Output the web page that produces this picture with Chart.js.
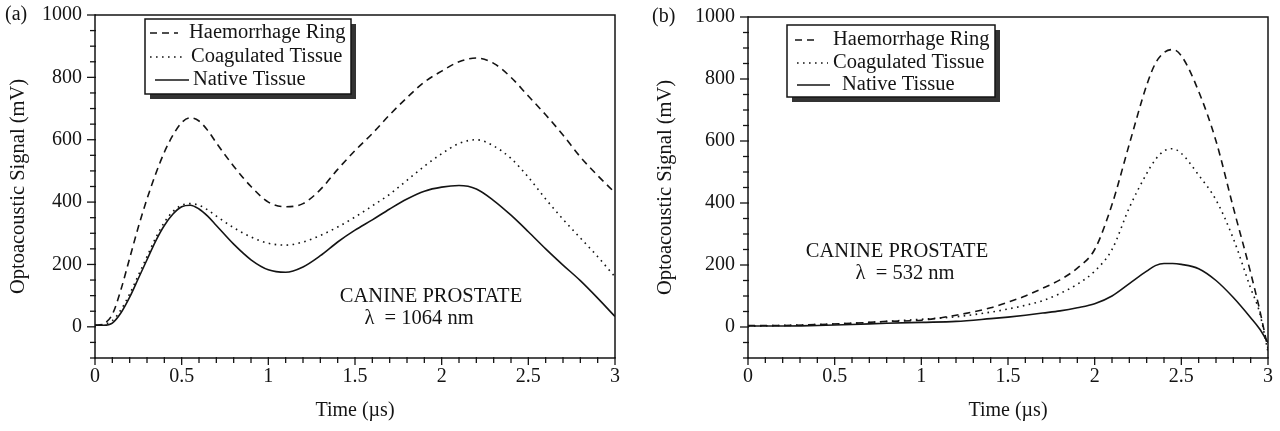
<!DOCTYPE html>
<html><head><meta charset="utf-8">
<script src="https://cdn.jsdelivr.net/npm/chart.js@4.4.1/dist/chart.umd.min.js"></script>
<style>
html,body{margin:0;padding:0;background:#fff;}
#wrap{position:relative;width:1280px;height:431px;overflow:hidden;background:#fff;}
.box{position:absolute;top:0;width:640px;height:431px;}
</style></head><body>
<div id="wrap">
<div class="box" style="left:0"><canvas id="ca"></canvas></div>
<div class="box" style="left:640px"><canvas id="cb"></canvas></div>
</div>
<script>
// ---------- data ----------
const seriesNames = ['Haemorrhage Ring', 'Coagulated Tissue', 'Native Tissue'];
const xTickValues = [0, 0.5, 1, 1.5, 2, 2.5, 3];
const yTickValues = [0, 200, 400, 600, 800, 1000];

// panel (a): 1064 nm
const timeA = [0,0.05,0.1,0.15,0.2,0.25,0.3,0.35,0.4,0.45,0.5,0.55,0.6,0.65,0.7,0.8,0.9,1.0,1.1,1.2,1.3,1.4,1.5,1.6,1.7,1.8,1.9,2.0,2.1,2.2,2.3,2.4,2.5,2.6,2.7,2.8,2.9,3.0];
const haemA   = [5,10,40,120,220,320,410,490,560,615,655,670,660,630,590,515,450,400,385,395,440,505,565,620,680,735,785,820,850,862,845,800,740,680,615,545,485,430];
const coagA   = [5,8,20,55,105,165,225,285,335,370,390,395,390,375,355,318,288,268,262,272,293,320,352,388,425,470,515,555,588,600,580,540,480,410,345,285,225,160];
const nativeA = [5,5,12,45,95,155,215,275,325,362,385,390,378,355,325,265,215,183,175,192,228,272,310,343,378,410,435,448,453,442,405,358,305,250,198,148,92,33];

// panel (b): 532 nm
const timeB = [0,0.2,0.4,0.6,0.8,1.0,1.2,1.4,1.5,1.6,1.7,1.8,1.9,2.0,2.1,2.2,2.3,2.35,2.4,2.45,2.5,2.6,2.7,2.8,2.9,2.95,3.0];
const haemB   = [5,5,8,12,18,22,38,62,80,100,125,152,190,250,395,590,780,850,885,895,875,760,600,385,175,60,-70];
const coagB   = [3,5,8,12,18,25,33,48,58,70,85,108,138,180,250,385,495,540,568,575,560,490,410,285,125,50,-80];
const nativeB = [3,3,5,8,12,15,18,27,32,38,45,52,62,75,100,140,180,198,205,205,202,188,150,95,30,-5,-50];

// ---------- styling ----------
const FONT = '"Liberation Serif", "Times New Roman", serif';
const INK = '#141414';
const dashes = [[7,5], [1.6,4.4], []];

function pts(t, v) { return t.map((x, i) => ({x: x, y: v[i]})); }

function makeDatasets(t, h, c, n) {
  return [h, c, n].map((v, i) => ({
    label: seriesNames[i],
    data: pts(t, v),
    borderColor: INK,
    borderWidth: 1.6,
    borderDash: dashes[i],
    pointRadius: 0,
    fill: false,
    cubicInterpolationMode: 'monotone'
  }));
}

function decorPlugin(p) {
  return {
    id: 'decor',
    afterDraw(chart) {
      const ctx = chart.ctx, a = chart.chartArea;
      const xs = chart.scales.x, ys = chart.scales.y;
      ctx.save();
      ctx.strokeStyle = INK;
      ctx.lineWidth = 1.5;
      ctx.setLineDash([]);
      ctx.strokeRect(a.left, a.top, a.right - a.left, a.bottom - a.top);
      ctx.lineWidth = 1.3;
      for (let k = 0; k <= 30; k++) {
        const v = k / 10, px = xs.getPixelForValue(v);
        const major = k % 5 === 0;
        ctx.beginPath();
        ctx.moveTo(px, a.bottom - 1);
        ctx.lineTo(px, a.bottom + (major ? 7 : 5));
        ctx.stroke();
      }
      for (let k = -2; k <= 20; k++) {
        const v = k * 50, py = ys.getPixelForValue(v);
        const major = k % 4 === 0;
        ctx.beginPath();
        ctx.moveTo(a.left + 1, py);
        ctx.lineTo(a.left - (major ? 8 : 5), py);
        ctx.stroke();
      }
      ctx.fillStyle = INK;
      ctx.font = '20px ' + FONT;
      ctx.textAlign = 'left';
      ctx.textBaseline = 'middle';
      ctx.fillText(p.tag, p.tagX, p.tagY);
      ctx.font = '20.5px ' + FONT;
      ctx.textAlign = 'center';
      ctx.fillText('CANINE PROSTATE', p.annX, p.annY);
      ctx.fillText(p.lambda, p.lamX, p.annY + 22);
      const L = p.legend;
      ctx.fillStyle = '#333';
      ctx.fillRect(L.x + 5, L.y + 5, L.w, L.h);
      ctx.fillStyle = '#fff';
      ctx.fillRect(L.x, L.y, L.w, L.h);
      ctx.strokeStyle = INK;
      ctx.lineWidth = 1.5;
      ctx.strokeRect(L.x, L.y, L.w, L.h);
      ctx.font = '20.5px ' + FONT;
      ctx.textAlign = 'left';
      ctx.fillStyle = INK;
      chart.data.datasets.forEach((ds, i) => {
        const yy = L.rows[i];
        ctx.beginPath();
        ctx.setLineDash(ds.borderDash);
        ctx.lineWidth = 1.6;
        ctx.moveTo(L.sx[i][0], yy);
        ctx.lineTo(L.sx[i][1], yy);
        ctx.stroke();
        ctx.setLineDash([]);
        ctx.fillText(ds.label, L.tx[i], yy);
      });
      ctx.restore();
    }
  };
}

function makeChart(id, t, h, c, n, p) {
  return new Chart(document.getElementById(id), {
    type: 'line',
    data: { datasets: makeDatasets(t, h, c, n) },
    options: {
      responsive: true,
      maintainAspectRatio: false,
      animation: false,
      layout: { padding: { left: 0, top: p.top, right: p.right, bottom: 0 } },
      plugins: { legend: { display: false }, tooltip: { enabled: false } },
      scales: {
        x: {
          type: 'linear', min: 0, max: 3,
          afterBuildTicks: s => { s.ticks = xTickValues.map(v => ({value: v})); },
          afterFit: s => { s.height = 73; s.paddingLeft = 0; s.paddingRight = 0; },
          grid: { display: false, drawTicks: false, tickLength: 0 },
          border: { display: false },
          ticks: { color: INK, font: { family: FONT, size: 20 }, padding: 7, maxRotation: 0, autoSkip: false,
                   callback: v => String(v) },
          title: { display: true, text: 'Time (µs)', color: INK, font: { family: FONT, size: 20 }, padding: { top: 0, bottom: 8 } }
        },
        y: {
          type: 'linear', min: -100, max: 1000,
          afterBuildTicks: s => { s.ticks = yTickValues.map(v => ({value: v})); },
          afterFit: s => { s.width = p.yWidth; s.paddingTop = 0; s.paddingBottom = 0; },
          grid: { display: false, drawTicks: false, tickLength: 0 },
          border: { display: false },
          ticks: { color: INK, font: { family: FONT, size: 20 }, padding: 13, autoSkip: false,
                   callback: v => String(v) },
          title: { display: true, text: 'Optoacoustic Signal (mV)', color: INK, font: { family: FONT, size: 20.5 }, padding: { top: p.titlePad, bottom: 0 } }
        }
      }
    },
    plugins: [decorPlugin(p)]
  });
}

makeChart('ca', timeA, haemA, coagA, nativeA, {
  top: 15, right: 25, yWidth: 95, titlePad: 6,
  tag: '(a)', tagX: 5, tagY: 15,
  annX: 431, annY: 297, lambda: 'λ  = 1064 nm', lamX: 419,
  legend: { x: 145, y: 19, w: 206, h: 75, rows: [33, 57, 80],
            sx: [[150, 178], [150, 182], [155, 189]], tx: [189, 191, 193] }
});
makeChart('cb', timeB, haemB, coagB, nativeB, {
  top: 17, right: 12, yWidth: 108, titlePad: 13,
  tag: '(b)', tagX: 12, tagY: 17,
  annX: 257, annY: 252, lambda: 'λ  = 532 nm', lamX: 265,
  legend: { x: 147, y: 25, w: 208, h: 72, rows: [40, 63, 85],
            sx: [[155, 178], [157, 188], [157, 190]], tx: [193, 193, 202] }
});
</script>
</body></html>
